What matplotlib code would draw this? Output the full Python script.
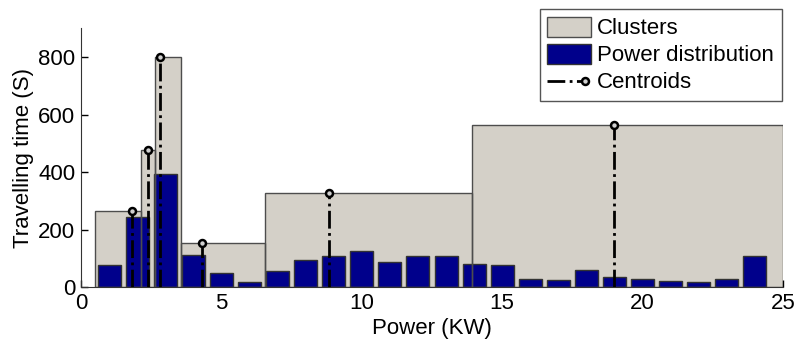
import matplotlib
matplotlib.use("Agg")
import matplotlib.pyplot as plt
from matplotlib.patches import Patch
from matplotlib.lines import Line2D
from matplotlib.legend_handler import HandlerLine2D

plt.rcParams['font.family'] = ['Liberation Sans', 'DejaVu Sans']

# Power distribution histogram
power_x = list(range(1, 25))
power_vals = [75, 243, 392, 111, 49, 16, 55, 94, 109, 126, 86, 109,
              109, 80, 77, 27, 23, 58, 35, 27, 21, 17, 29, 109]

# Clusters (edges and heights)
cluster_edges = [0.5, 2.12, 2.62, 3.57, 6.56, 13.91, 25.0]
cluster_heights = [263, 477, 800, 154, 328, 562]

# Centroids
centroid_x = [1.83, 2.40, 2.83, 4.30, 8.82, 19.0]
centroid_y = [263, 477, 800, 154, 328, 562]

gray = '#D4D0C8'
navy = '#00008B'
edge = '#4d4d4d'
FS = 16


class HandlerEndMarker(HandlerLine2D):
    def create_artists(self, legend, orig_handle, xdescent, ydescent,
                       width, height, fontsize, trans):
        y = height / 2.0 - ydescent
        x0, x1 = -xdescent, width - xdescent
        line = Line2D([x0, x1 - 4], [y, y])
        line.update_from(orig_handle)
        line.set_marker('None')
        line.set_transform(trans)
        mk = Line2D([x1 - 4], [y])
        mk.update_from(orig_handle)
        mk.set_linestyle('None')
        mk.set_markevery(None)
        mk.set_transform(trans)
        return [line, mk]


fig = plt.figure(figsize=(7.97, 3.45), dpi=100)
ax = fig.add_axes([0.1016, 0.168, 0.8808, 0.750])

lefts = cluster_edges[:-1]
widths = [cluster_edges[i + 1] - cluster_edges[i] for i in range(len(cluster_heights))]
ax.bar(lefts, cluster_heights, width=widths, align='edge', color=gray,
       edgecolor='none', zorder=1)
ax.bar(power_x, power_vals, width=0.82, color=navy, edgecolor='#333333',
       linewidth=1.0, zorder=2)
ax.bar(lefts, cluster_heights, width=widths, align='edge', facecolor='none',
       edgecolor=edge, linewidth=1.0, zorder=2.5)

for cx, cy in zip(centroid_x, centroid_y):
    ax.plot([cx, cx], [0, cy], color='black', linestyle='-.', linewidth=2.0,
            marker='o', markevery=[1], markersize=5, markerfacecolor='#d0d0d0',
            markeredgecolor='black', markeredgewidth=1.8, zorder=3)

ax.set_xlim(0, 25)
ax.set_ylim(0, 900)
ax.set_xticks([0, 5, 10, 15, 20, 25])
ax.set_yticks([0, 200, 400, 600, 800])
ax.tick_params(direction='in', length=5, width=1, labelsize=FS, pad=4)
for s in ['top', 'right']:
    ax.spines[s].set_visible(False)
for s in ['left', 'bottom']:
    ax.spines[s].set_color('#333333')
ax.set_xlabel('Power (KW)', fontsize=FS, labelpad=3)
ax.set_ylabel('Travelling time (S)', fontsize=FS, labelpad=3)

cent_handle = Line2D([0, 1], [0, 0], color='black', linestyle='-.', linewidth=2.0,
                     marker='o', markersize=5, markerfacecolor='#d0d0d0',
                     markeredgecolor='black', markeredgewidth=1.8)
handles = [
    Patch(facecolor=gray, edgecolor=edge, linewidth=1.0),
    Patch(facecolor=navy, edgecolor='#333333', linewidth=1.0),
    cent_handle,
]
labels = ['Clusters', 'Power distribution', 'Centroids']
leg = fig.legend(handles, labels, loc='upper right',
                 bbox_to_anchor=(782 / 797, 1 - 9 / 345),
                 fontsize=FS, fancybox=False, framealpha=1,
                 edgecolor='#555555', handlelength=1.95, handleheight=1.0,
                 handletextpad=0.3, labelspacing=0.2, borderpad=0.35,
                 borderaxespad=0, handler_map={cent_handle: HandlerEndMarker()})
leg.get_frame().set_linewidth(1.0)

fig.savefig('out.png', dpi=100)
